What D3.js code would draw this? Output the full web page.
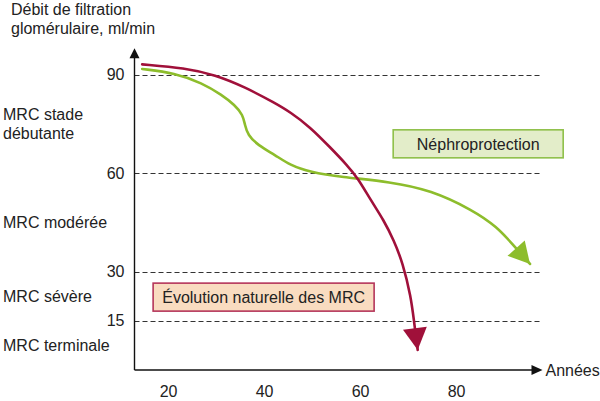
<!DOCTYPE html>
<html>
<head>
<meta charset="utf-8">
<script src="https://cdn.jsdelivr.net/npm/d3@7"></script>
<style>
  body { margin: 0; background: #fff; }
  svg { display: block; font-family: "Liberation Sans", Arial, sans-serif; }
</style>
</head>
<body>
<div id="chart"></div>
<script>
// Axes
const xTicks = [20, 40, 60, 80];
const yTicks = [90, 60, 30, 15];
const titleLines = ['Débit de filtration', 'glomérulaire, ml/min'];

// CKD stages, drawn halfway between the thresholds
const stageLabels = [['MRC stade', 'débutante'], ['MRC modérée'], ['MRC sévère'], ['MRC terminale']];
const stageMid = [75, 45, 22.5, 7.5];

// Curves: age (years) and DFG (ml/min)
const naturalAge = [14.6, 23.5, 29.8, 36.0, 42.3, 45.4, 49.6, 53.7, 57.3, 59.5, 62.2, 64.9, 67.0, 68.9, 70.6, 71.2, 72.0];
const naturalDfg = [93.1, 92.0, 89.9, 86.2, 81.3, 78.6, 74.0, 67.9, 62.4, 58.5, 51.8, 45.7, 39.6, 32.6, 22.2, 15.2, 6.1];

const protAge = [14.6, 21.4, 27.1, 31.2, 33.9, 35.6, 36.0, 36.6, 38.7, 42.3, 45.4, 49.6, 55.9, 66.4, 74.7, 83.5, 88.5, 91.9, 95.4];
const protDfg = [91.7, 90.5, 87.4, 83.8, 80.7, 77.7, 74.6, 71.6, 68.5, 65.5, 62.4, 60.3, 58.8, 57.3, 54.8, 48.7, 43.6, 38.1, 32.3];

const width = 600, height = 401;
const red = '#a0103a', green = '#8dbd2c';

const svg = d3.select('#chart').append('svg')
  .attr('width', width)
  .attr('height', height);

const x = d3.scaleLinear().domain([13, 98]).range([134.5, 542.5]);
const y = d3.scaleLinear().domain([0, 98]).range([370, 48.3]);

// dashed threshold lines
svg.append('g')
  .selectAll('line')
  .data(yTicks)
  .enter()
  .append('line')
  .attr('x1', x(13))
  .attr('x2', x(98))
  .attr('y1', d => Math.round(y(d)) + 0.5)
  .attr('y2', d => Math.round(y(d)) + 0.5)
  .attr('stroke', '#333')
  .attr('stroke-width', 1.2)
  .attr('stroke-dasharray', '5,3');

// axes (no domain path, drawn by hand with arrows)
const yAxis = svg.append('g')
  .attr('transform', `translate(${x(13)},0)`)
  .call(d3.axisLeft(y).tickValues(yTicks).tickSize(0).tickPadding(10));
yAxis.select('.domain').remove();
yAxis.selectAll('text')
  .attr('font-size', 16)
  .attr('fill', '#222')
  .attr('font-family', '"Liberation Sans", Arial, sans-serif');

const xAxis = svg.append('g')
  .attr('transform', `translate(0,${y(0)})`)
  .call(d3.axisBottom(x).tickValues(xTicks).tickSize(0).tickPadding(16));
xAxis.select('.domain').remove();
xAxis.selectAll('text')
  .attr('font-size', 16)
  .attr('fill', '#222')
  .attr('font-family', '"Liberation Sans", Arial, sans-serif');

const x0 = x(13), y0 = y(0);
svg.append('line')
  .attr('x1', x0).attr('y1', y0)
  .attr('x2', x0).attr('y2', y(98) + 8)
  .attr('stroke', '#111').attr('stroke-width', 1.4);
svg.append('line')
  .attr('x1', x0).attr('y1', y0)
  .attr('x2', x(98) - 8).attr('y2', y0)
  .attr('stroke', '#111').attr('stroke-width', 1.4);
svg.append('path')
  .attr('d', `M${x0 - 5},${y(98) + 10}L${x0},${y(98)}L${x0 + 5},${y(98) + 10}Z`)
  .attr('fill', '#111');
svg.append('path')
  .attr('d', `M${x(98) - 11},${y0 - 5}L${x(98)},${y0}L${x(98) - 11},${y0 + 5}Z`)
  .attr('fill', '#111');

svg.append('text')
  .attr('x', x(98) + 3)
  .attr('y', y0 + 6)
  .attr('font-size', 16)
  .attr('fill', '#222')
  .text('Années');

// title
svg.append('g')
  .selectAll('text')
  .data(titleLines)
  .enter()
  .append('text')
  .attr('x', 11)
  .attr('y', (d, i) => 15 + i * 19)
  .attr('font-size', 16)
  .attr('fill', '#222')
  .text(d => d);

// stage labels
stageLabels.forEach((lines, i) => {
  const cy = y(stageMid[i]);
  const top = cy - (lines.length - 1) * 19 / 2;
  lines.forEach((t, j) => {
    svg.append('text')
      .attr('x', 3)
      .attr('y', top + j * 19 + 6)
      .attr('font-size', 16)
      .attr('fill', '#222')
      .text(t);
  });
});

// curves with arrow heads
const line = d3.line()
  .x(d => x(d[0]))
  .y(d => y(d[1]))
  .curve(d3.curveBasis);

function drawCurve(ages, values, color, headLen, headHalf) {
  const pts = ages.map((a, i) => [a, values[i]]);
  svg.append('path')
    .datum(pts)
    .attr('d', line)
    .attr('fill', 'none')
    .attr('stroke', color)
    .attr('stroke-width', 2.6)
    .attr('stroke-linecap', 'round');

  const tip = pts[pts.length - 1], prev = pts[pts.length - 2];
  const tx = x(tip[0]), ty = y(tip[1]);
  let dx = tx - x(prev[0]), dy = ty - y(prev[1]);
  const len = Math.hypot(dx, dy);
  dx /= len; dy /= len;
  const bx = tx - dx * headLen, by = ty - dy * headLen;
  svg.append('path')
    .attr('d', `M${tx},${ty}L${bx - dy * headHalf},${by + dx * headHalf}L${bx + dy * headHalf},${by - dx * headHalf}Z`)
    .attr('fill', color);
}

drawCurve(protAge, protDfg, green, 21, 11.5);
drawCurve(naturalAge, naturalDfg, red, 22, 12);

// annotation boxes
function labelBox(text, cx, cy, w, fill, stroke) {
  const g = svg.append('g').attr('transform', `translate(${x(cx)},${y(cy)})`);
  g.append('rect')
    .attr('x', -w / 2).attr('y', -14)
    .attr('width', w).attr('height', 28)
    .attr('fill', fill)
    .attr('stroke', stroke)
    .attr('stroke-width', 1.6);
  g.append('text')
    .attr('text-anchor', 'middle')
    .attr('y', 6)
    .attr('font-size', 16)
    .attr('fill', '#222')
    .text(text);
}

labelBox('Néphroprotection', 84.6, 68.9, 170, '#e3edc9', '#8fc04a');
labelBox('Évolution naturelle des MRC', 39.9, 22.2, 221, '#f9dcc0', '#b5365a');
</script>
</body>
</html>
